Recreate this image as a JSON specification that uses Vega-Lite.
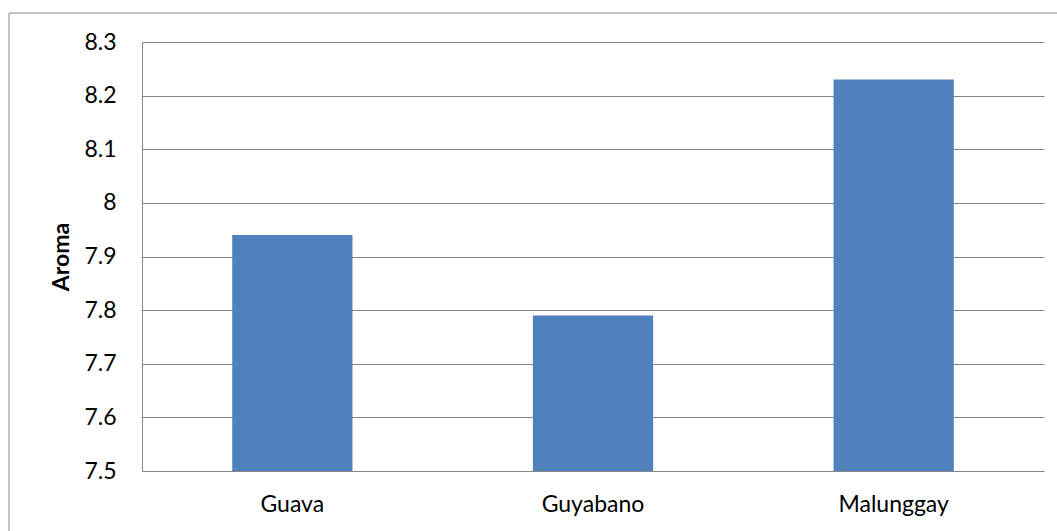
{
  "$schema": "https://vega.github.io/schema/vega-lite/v6.json",
  "width": 902,
  "height": 429,
  "autosize": {"type": "none"},
  "padding": {"left": 142, "top": 42, "right": 13, "bottom": 60},
  "background": "white",
  "config": {"view": {"stroke": null}, "font": "Lato"},
  "data": {
    "values": [
      {"fruit": "Guava", "aroma": 7.94},
      {"fruit": "Guyabano", "aroma": 7.79},
      {"fruit": "Malunggay", "aroma": 8.23}
    ]
  },
  "layer": [
    {
      "mark": {"type": "bar", "color": "#4F81BD"},
      "encoding": {
        "x": {
          "field": "fruit",
          "type": "nominal",
          "sort": null,
          "scale": {"paddingInner": 0.6, "paddingOuter": 0.3},
          "axis": {
            "title": null,
            "labelAngle": 0,
            "labelFontSize": 23,
            "labelColor": "black",
            "domain": true,
            "domainColor": "#868686",
            "domainWidth": 1,
            "ticks": false,
            "tickSize": 0,
            "labelPadding": 22
          }
        },
        "y": {
          "field": "aroma",
          "type": "quantitative",
          "scale": {"domain": [7.5, 8.3], "nice": false, "zero": false},
          "axis": {
            "title": "Aroma",
            "values": [7.5, 7.6, 7.7, 7.8, 7.9, 8, 8.1, 8.2, 8.3],
            "labelExpr": "format(datum.value, '~g')",
            "grid": true,
            "gridColor": "#868686",
            "gridWidth": 1,
            "domain": true,
            "domainColor": "#868686",
            "ticks": false,
            "tickSize": 0,
            "labelPadding": 26,
            "labelFontSize": 23,
            "labelColor": "black",
            "titleFontSize": 23,
            "titleFontWeight": "bold",
            "titleColor": "black",
            "titlePadding": 10
          }
        },
        "y2": {"datum": 7.5}
      }
    },
    {
      "data": {"values": [{"frame": 1}]},
      "mark": {"type": "rect", "fill": null, "stroke": "#868686", "strokeWidth": 1},
      "encoding": {
        "x": {"datum": -0.14745, "type": "quantitative", "scale": {"domain": [0, 1], "nice": false, "zero": false}, "axis": null},
        "x2": {"datum": 1.03},
        "y": {"datum": 8.3541, "type": "quantitative"},
        "y2": {"datum": 7.35}
      }
    }
  ],
  "resolve": {"scale": {"x": "independent"}}
}
